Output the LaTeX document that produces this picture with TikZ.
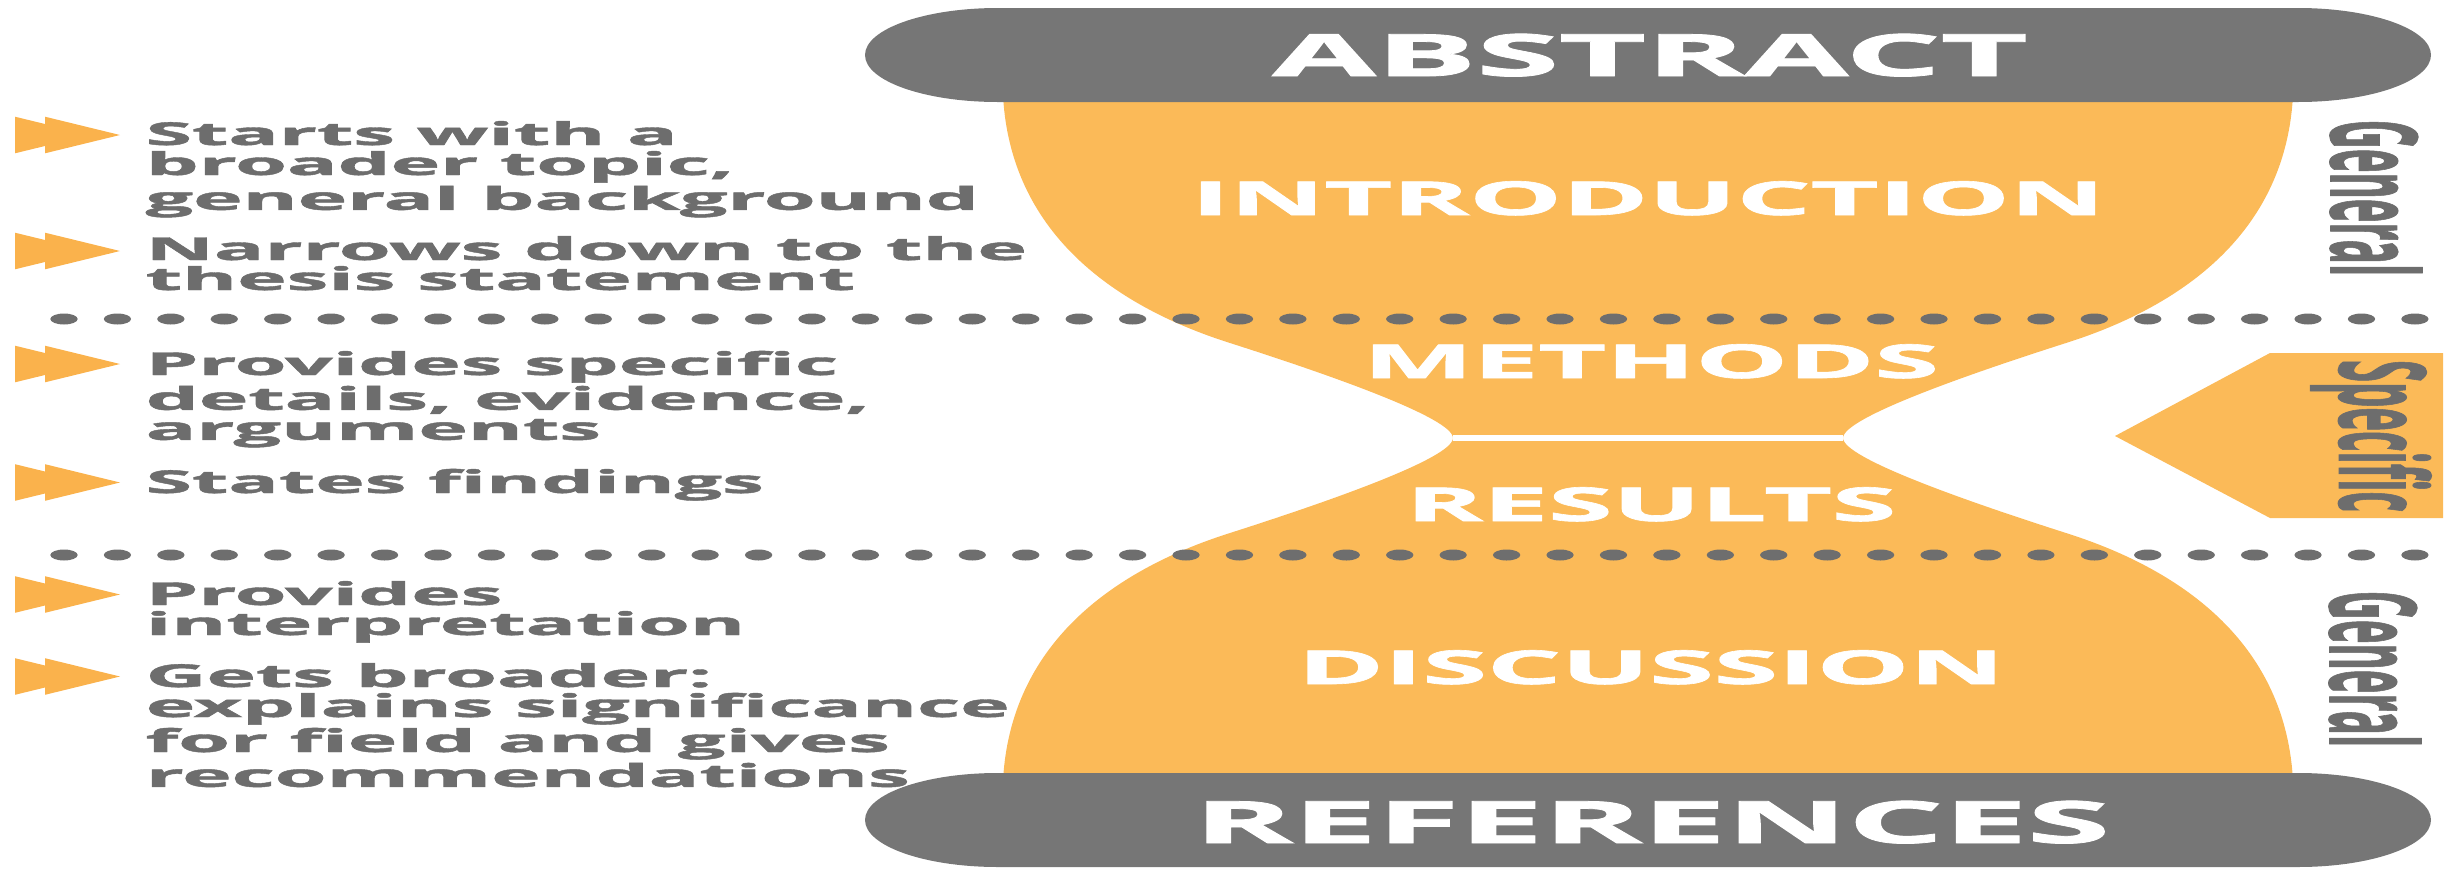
\documentclass[tikz,border=0pt]{standalone}
\usepackage{fontspec}
\setmainfont{Open Sans}[BoldFeatures={FakeBold=1.3}]
\definecolor{hgorange}{HTML}{FBBA58}
\definecolor{arrorange}{HTML}{FAB24C}
\definecolor{bangray}{HTML}{767676}
\definecolor{txtgray}{HTML}{6D6D6D}
\definecolor{dotgray}{HTML}{6E6E6E}
\tikzset{
  banner/.style={fill=bangray},
  bannerlabel/.style={text=white, font=\fontsize{17.5}{18}\selectfont\bfseries, xscale=2.57, inner sep=0pt, anchor=base},
  seclabel/.style={text=white, font=\fontsize{14}{15}\selectfont\bfseries, xscale=2.5, inner sep=0pt, anchor=base},
  itemtext/.style={text=txtgray, font=\fontsize{9.45}{9}\selectfont\bfseries, xscale=2.66, inner sep=0pt, anchor=base west},
  sidelabel/.style={text=txtgray, font=\fontsize{12}{12}\selectfont\bfseries, rotate=-90, inner sep=0pt},
  bullet/.style={fill=arrorange},
  dotmark/.style={fill=dotgray},
  neckline/.style={draw=white, line width=1.8pt},
}
\begin{document}
\begin{tikzpicture}[x=0.3pt, y=0.3pt]
\useasboundingbox (0,0) rectangle (2455,-869);
% hourglass body
\fill[hgorange] (1003,-95) .. controls (1010,-230) and (1110,-305) .. (1230,-343)
  .. controls (1330,-375) and (1453,-418) .. (1453,-438)
  .. controls (1453,-458) and (1330,-501) .. (1230,-533)
  .. controls (1110,-571) and (1010,-646) .. (1003,-781)
  -- (2293,-781)
  .. controls (2286,-646) and (2186,-571) .. (2066,-533)
  .. controls (1966,-501) and (1843,-458) .. (1843,-438)
  .. controls (1843,-418) and (1966,-375) .. (2066,-343)
  .. controls (2186,-305) and (2286,-230) .. (2293,-95) -- cycle;
\coordinate (neckL) at (1453,-438);
\coordinate (neckR) at (1843,-438);
\draw[neckline] (neckL) -- (neckR);
% banners
\fill[banner] (998,-8) -- (2298,-8) arc[start angle=90, end angle=-90, x radius=39.9pt, y radius=14.1pt]
  -- (998,-102) arc[start angle=270, end angle=90, x radius=39.9pt, y radius=14.1pt] -- cycle;
\fill[banner] (998,-773) -- (2298,-773) arc[start angle=90, end angle=-90, x radius=39.9pt, y radius=14.1pt]
  -- (998,-867) arc[start angle=270, end angle=90, x radius=39.9pt, y radius=14.1pt] -- cycle;
% dotted separators
\foreach \k in {0,...,44} {
  \fill[dotmark] ({64+53.43*\k},-319) ellipse [x radius=4.1pt, y radius=1.65pt];
  \fill[dotmark] ({64+53.43*\k},-555) ellipse [x radius=4.1pt, y radius=1.65pt];
}
% specific box
\fill[hgorange] (2115,-436) -- (2270,-353) -- (2443,-353) -- (2443,-518) -- (2270,-518) -- cycle;
% labels
\node[bannerlabel] (abstract) at (1650,-76) {ABSTRACT};
\node[seclabel] (intro) at (1648,-215) {INTRODUCTION};
\node[seclabel] (methods) at (1651,-378) {METHODS};
\node[seclabel] (results) at (1651,-521) {RESULTS};
\node[seclabel] (discussion) at (1651,-684) {DISCUSSION};
\node[bannerlabel] (references) at (1652,-843) {REFERENCES};
\node[sidelabel] (gen1) at (2376,-198) {\scalebox{1}[3.0]{General}};
\node[sidelabel] (spec) at (2371,-436) {\scalebox{1}[3.0]{Specific}};
\node[sidelabel] (gen2) at (2375,-669) {\scalebox{1}[3.0]{General}};
% bullets
\foreach \c in {135,251,364,482.5,594.5,676.5} {
  \fill[bullet] (15,-\c+18.3) -- (90,-\c) -- (15,-\c-18.3) -- cycle;
  \fill[bullet] (45,-\c+18.3) -- (120,-\c) -- (45,-\c-18.3) -- cycle;
}
% item texts
\node[itemtext] (t1) at (144,-145) {\vtop{\hbox{Starts with a}\hbox{broader topic,}\hbox{general background}}};
\node[itemtext] (t2) at (144,-260) {\vtop{\hbox{Narrows down to the}\hbox{thesis statement}}};
\node[itemtext] (t3) at (144,-375) {\vtop{\hbox{Provides specific}\hbox{details, evidence,}\hbox{arguments}}};
\node[itemtext] (t4) at (144,-493) {\vtop{\hbox{States findings}}};
\node[itemtext] (t5) at (144,-605) {\vtop{\hbox{Provides}\hbox{interpretation}}};
\node[itemtext] (t6) at (144,-687) {\vtop{\hbox{Gets broader:}\hbox{explains significance}\hbox{for field and gives}\hbox{recommendations}}};
\end{tikzpicture}
\end{document}
